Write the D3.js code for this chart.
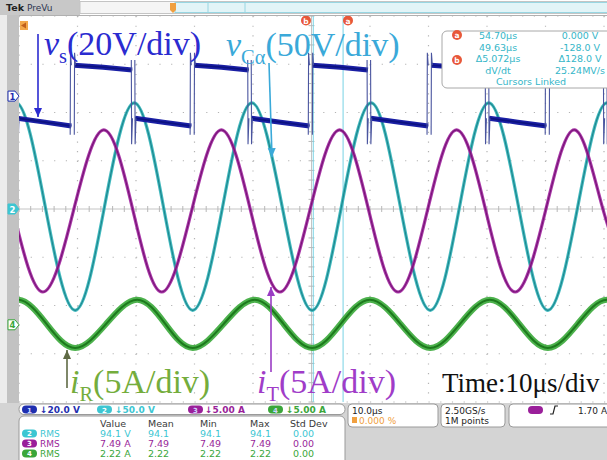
<!DOCTYPE html>
<html lang='en'>
<head>
<meta charset="utf-8">
<script src="https://d3js.org/d3.v7.min.js"></script>
<style>
body { margin:0; background:#fff; }
svg { display:block; }
</style>
</head>
<body>
<div id="scope"></div>
<script>

// ---- data (time in us, 10 us/div) ----
var chScale = [20, 50, 5, 5];          // V/div, V/div, A/div, A/div
var chPos   = [2.34, 0, 0, -2.40];      // channel offset, in div

// i_T (ch3): crossings / peaks / troughs
var iT_t = [-11.0, -6.0, -1.0, 4.1, 9.3, 14.5, 19.5, 24.4, 29.5, 34.6, 39.6, 44.6,
            49.7, 54.8, 59.8, 64.8, 69.8, 74.8, 79.8, 84.8, 90.0, 95.0, 99.9, 104.9];
var iT_v = [-0.2, 8.2, -0.2, -8.6, -0.2, 8.2, -0.2, -8.6, -0.2, 8.2, -0.2, -8.6,
            -0.2, 8.2, -0.2, -8.6, -0.2, 8.2, -0.2, -8.6, -0.2, 8.2, -0.2, -8.6];

// v_Ca (ch2)
var vC_t = [-5.5, -0.5, 4.5, 9.6, 14.6, 19.7, 24.7, 29.7, 34.8, 39.8, 45.0, 50.1,
            55.1, 60.2, 65.2, 70.3, 75.3, 80.3, 85.4, 90.4, 95.5, 100.5, 105.5];
var vC_v = [2, 110, 2, -105, 2, 110, 2, -105, 2, 110, 2, -105,
            2, 110, 2, -105, 2, 110, 2, -105, 2, 110, 2];

// i_R (ch4)
var iR_t = [-5.0, -0.2, 4.7, 9.6, 14.9, 20.2, 25.0, 29.7, 35.0, 40.3, 45.2, 50.1,
            55.0, 60.0, 65.2, 70.3, 75.4, 80.5, 85.5, 90.4, 95.5, 100.5, 105.4];
var iR_v = [0.1, 2.6, 0.1, -2.4, 0.1, 2.6, 0.1, -2.4, 0.1, 2.6, 0.1, -2.4,
            0.1, 2.6, 0.1, -2.4, 0.1, 2.6, 0.1, -2.4, 0.1, 2.6, 0.1];

// v_s (ch1): switching edges and levels
var vsRise = [9.1, 29.6, 49.8, 70.1, 90.3];
var vsFall = [-0.5, 19.5, 39.4, 59.8, 80.0, 100.2];
var vsHigh = [12.8, 12.0, 10.8];   // start, middle, end of a high interval (V)
var vsLow  = [-9.2, -10.8, -12.4];
var vsRiseSpike = [-16, 18];
var vsFallSpike = [15, -20];

// cursors
var cursorAt = [50.3, 55.4];   // b, a
var curLeft  = ["54.70\u03bcs", "49.63\u03bcs", "\u03945.072\u03bcs", "dV/dt"];
var curRight = ["0.000 V", "-128.0 V", "\u0394128.0 V", "25.24MV/s"];

// bottom panel
var chBar  = ["\u219320.0 V", "\u219350.0 V", "\u21935.00 A", "\u21935.00 A"];
var measHead = ["Value", "Mean", "Min", "Max", "Std Dev"];
var measCh   = ["2", "3", "4"];
var measVal  = [["94.1 V", "94.1", "94.1", "94.1", "0.00"],
                ["7.49 A", "7.49", "7.49", "7.49", "0.00"],
                ["2.22 A", "2.22", "2.22", "2.22", "0.00"]];

var chCol  = ["#1a1fa4", "#2fb3b8", "#a0229e", "#38a838"];
var chDark = ["#0c1280", "#1d878e", "#781477", "#1d7a1d"];
var chFill = ["#1f2fb0", "#3cc6d2", "#9a1f9a", "#3aa63a"];

// ---- layout ----
var W = 607, H = 460;
var x = d3.scaleLinear().domain([0, 100]).range([19, 604]);
var yDiv = d3.scaleLinear().domain([-4, 4]).range([402, 16]);
function yCh(c, v) { return yDiv(v / chScale[c] + chPos[c]); }

var svg = d3.select("#scope").append("svg")
  .attr("width", W).attr("height", H)
  .style("font-family", "'DejaVu Sans', sans-serif");

svg.append("rect").attr("width", W).attr("height", H).attr("fill", "#fff");

var defs = svg.append("defs");
defs.append("clipPath").attr("id", "plot")
  .append("rect").attr("x", 19).attr("y", 16).attr("width", 590).attr("height", 386);

// grid
var grid = svg.append("g");
var xMinor = (x(10) - x(0)) / 5, yMinor = (yDiv(0) - yDiv(1)) / 5;
d3.range(0, 11).forEach(function (i) {
  if (i == 5) return;
  grid.append("line").attr("x1", x(i * 10)).attr("x2", x(i * 10)).attr("y1", 16).attr("y2", 402)
    .attr("stroke", "#b4b4b4").attr("stroke-width", 1.2)
    .attr("stroke-dasharray", "1.2," + (yMinor - 1.2));
});
d3.range(-4, 5).forEach(function (j) {
  if (j == 0) return;
  grid.append("line").attr("x1", 19).attr("x2", 607).attr("y1", yDiv(j)).attr("y2", yDiv(j))
    .attr("stroke", "#b4b4b4").attr("stroke-width", 1.2)
    .attr("stroke-dasharray", "1.2," + (xMinor - 1.2));
});
grid.append("line").attr("x1", 19).attr("x2", 607).attr("y1", yDiv(0)).attr("y2", yDiv(0))
  .attr("stroke", "#c4c4c4");
grid.append("line").attr("x1", x(50)).attr("x2", x(50)).attr("y1", 16).attr("y2", 402)
  .attr("stroke", "#c4c4c4");
d3.range(0, 51).forEach(function (k) {
  grid.append("line").attr("x1", x(0) + k * xMinor).attr("x2", x(0) + k * xMinor)
    .attr("y1", yDiv(0) - 3).attr("y2", yDiv(0) + 3).attr("stroke", "#b8b8b8");
});
d3.range(0, 41).forEach(function (k) {
  grid.append("line").attr("y1", 16 + k * yMinor).attr("y2", 16 + k * yMinor)
    .attr("x1", x(50) - 3).attr("x2", x(50) + 3).attr("stroke", "#b8b8b8");
});

// cursor lines
cursorAt.forEach(function (t) {
  svg.append("line").attr("x1", x(t)).attr("x2", x(t)).attr("y1", 16).attr("y2", 402)
    .attr("stroke", "#78d2e4").attr("stroke-width", 1);
});

// ---- traces ----
var traces = svg.append("g").attr("clip-path", "url(#plot)");
function sineTrace(c, ts, vs, w) {
  var pts = ts.map(function (t, i) { return [t, vs[i]]; });
  var line = d3.line().x(function (d) { return x(d[0]); })
    .y(function (d) { return yCh(c, d[1]); }).curve(d3.curveNatural);
  traces.append("path").attr("d", line(pts)).attr("fill", "none")
    .attr("stroke", chCol[c]).attr("stroke-width", w).attr("stroke-opacity", 0.9);
  traces.append("path").attr("d", line(pts)).attr("fill", "none")
    .attr("stroke", chDark[c]).attr("stroke-width", w * 0.35);
}
sineTrace(3, iR_t, iR_v, 6);
sineTrace(1, vC_t, vC_v, 3.2);
sineTrace(2, iT_t, iT_v, 3.2);

// v_s: flat segments + thin switching edges
var segs = [];
vsFall.forEach(function (f) {
  var r = vsRise.find(function (v) { return v > f; });
  if (r !== undefined) segs.push([f, r, vsLow]);
});
vsRise.forEach(function (r) {
  var f = vsFall.find(function (v) { return v > r; });
  if (f !== undefined) segs.push([r, f, vsHigh]);
});
var segLine = d3.line().x(function (d) { return x(d[0]); }).y(function (d) { return yCh(0, d[1]); });
segs.forEach(function (s) {
  var a = s[0] + 0.35, b = s[1] - 0.15, lv = s[2];
  var pts = [[a, lv[0]], [(a + b) / 2, lv[1]], [b, lv[2]]];
  traces.append("path").attr("d", segLine(pts)).attr("fill", "none")
    .attr("stroke", chCol[0]).attr("stroke-width", 5);
  traces.append("path").attr("d", segLine(pts)).attr("fill", "none")
    .attr("stroke", chDark[0]).attr("stroke-width", 1.6);
});
vsRise.forEach(function (r) {
  [-0.35, 0.35].forEach(function (o) {
    traces.append("path").attr("d", segLine([[r + o, vsLow[2]], [r + o, vsRiseSpike[0]],
        [r + o + 0.05, vsRiseSpike[1]], [r + o + 0.2, vsHigh[0]]]))
      .attr("fill", "none").attr("stroke", "#4a559f").attr("stroke-width", 1.1);
  });
});
vsFall.forEach(function (f) {
  [-0.3, 0.3].forEach(function (o) {
    traces.append("path").attr("d", segLine([[f + o, vsHigh[2]], [f + o, vsFallSpike[0]],
        [f + o + 0.05, vsFallSpike[1]], [f + o + 0.2, vsLow[0]]]))
      .attr("fill", "none").attr("stroke", "#4a559f").attr("stroke-width", 1.1);
  });
});

// ---- annotations ----
function arrow(x1, y1, x2, y2, col) {
  svg.append("line").attr("x1", x1).attr("y1", y1).attr("x2", x2).attr("y2", y2)
    .attr("stroke", col).attr("stroke-width", 1.6);
  var ang = Math.atan2(y2 - y1, x2 - x1), L = 9, Wd = 4;
  var bx = x2 - L * Math.cos(ang), by = y2 - L * Math.sin(ang);
  svg.append("path").attr("fill", col)
    .attr("d", "M" + x2 + "," + y2 + "L" + (bx + Wd * Math.sin(ang)) + "," + (by - Wd * Math.cos(ang)) +
      "L" + (bx - Wd * Math.sin(ang)) + "," + (by + Wd * Math.cos(ang)) + "Z");
}
arrow(38, 34, 38, 117, "#2b2bd0");
arrow(269, 63, 272, 157, "#3aa9d9");
arrow(67, 388, 67, 350, "#5f6a44");
arrow(271, 372, 271, 287, "#9a3cc4");

function label(xp, yp, main, sub, rest, col, size) {
  var t = svg.append("text").attr("x", xp).attr("y", yp)
    .attr("font-family", "'Liberation Serif', 'Times New Roman', serif")
    .attr("font-size", size).attr("fill", col);
  t.append("tspan").attr("font-style", "italic").text(main);
  t.append("tspan").attr("font-size", size * 0.6).attr("dy", size * 0.24).text(sub);
  t.append("tspan").attr("dy", -size * 0.24).text(rest);
}
label(44, 55, "v", "s", "(20V/div)", "#2b2bd0", 34);
label(226, 56, "v", "C\u03b1", "(50V/div)", "#3aa9d9", 34);
label(70, 393, "i", "R", "(5A/div)", "#74ad3c", 34);
label(257, 393, "i", "T", "(5A/div)", "#a03cc8", 34);
svg.append("text").attr("x", 442).attr("y", 392)
  .attr("font-family", "'Liberation Serif', 'Times New Roman', serif")
  .attr("font-size", 27).attr("fill", "#111").text("Time:10\u03bcs/div");

// cursor readout box
svg.append("rect").attr("x", 442).attr("y", 31).attr("width", 175).attr("height", 57)
  .attr("rx", 5).attr("fill", "#fff").attr("stroke", "#a8a8a8");
var rowY = [39, 51, 62, 74];
curLeft.forEach(function (s, i) {
  svg.append("text").attr("x", 498).attr("y", rowY[i]).attr("text-anchor", "middle")
    .attr("font-size", 9.5).attr("fill", "#35b6c8").text(s);
  svg.append("text").attr("x", 580).attr("y", rowY[i]).attr("text-anchor", "middle")
    .attr("font-size", 9.5).attr("fill", "#35b6c8").text(curRight[i]);
});
svg.append("text").attr("x", 531).attr("y", 85).attr("text-anchor", "middle")
  .attr("font-size", 9.5).attr("fill", "#35b6c8").text("Cursors Linked");
function badge(cx, cy, s) {
  svg.append("circle").attr("cx", cx).attr("cy", cy).attr("r", 5).attr("fill", "#e8583a");
  svg.append("text").attr("x", cx).attr("y", cy + 3).attr("text-anchor", "middle")
    .attr("font-size", 7.5).attr("font-weight", "bold").attr("fill", "#fff").text(s);
}
badge(457, 35, "a");
badge(457, 60, "b");
badge(306, 20.5, "b");
badge(348, 20.5, "a");

// ---- chrome ----
svg.append("rect").attr("x", 0).attr("y", 15).attr("width", 7).attr("height", 388).attr("fill", "#ececec");
svg.append("rect").attr("x", 7).attr("y", 15).attr("width", 12).attr("height", 388).attr("fill", "#c2c2c2");
svg.append("line").attr("x1", 19).attr("x2", 607).attr("y1", 15.5).attr("y2", 15.5).attr("stroke", "#b0b0b0");

// top bar
svg.append("rect").attr("x", 0).attr("y", 0).attr("width", 80).attr("height", 15).attr("fill", "#c8c8c8");
svg.append("text").attr("x", 6).attr("y", 11).attr("font-size", 9.5).attr("font-weight", "bold")
  .attr("fill", "#222").text("Tek");
svg.append("text").attr("x", 27).attr("y", 11).attr("font-size", 9).attr("fill", "#2c3550").text("PreVu");
svg.append("rect").attr("x", 80).attr("y", 1.5).attr("width", 530).attr("height", 12)
  .attr("fill", "#f5f5f5").attr("stroke", "#c4c4c4");
svg.append("rect").attr("x", 175).attr("y", 2.5).attr("width", 435).attr("height", 10)
  .attr("fill", "#e2f4f7").attr("stroke", "#98d6e2");
[208, 245].forEach(function (v) {
  svg.append("line").attr("x1", v).attr("x2", v).attr("y1", 2).attr("y2", 13).attr("stroke", "#98d6e2");
});
svg.append("path").attr("d", "M170,3 L176,3 L176,10 L173,13 L170,10 Z").attr("fill", "#f0a040");
svg.append("path").attr("d", "M20,21 L28,21 L28,30 L20,30 Z").attr("fill", "#f2a84a");
svg.append("path").attr("d", "M21,25.5 L26,22.5 L26,28.5 Z").attr("fill", "#c0601c");

// channel markers on the left
function tag(cy, s, fill, stroke, txt) {
  svg.append("path").attr("d", "M8," + (cy - 5) + " L15," + (cy - 5) + " L19," + cy + " L15," + (cy + 5) +
    " L8," + (cy + 5) + " Z").attr("fill", fill).attr("stroke", stroke);
  svg.append("text").attr("x", 12.5).attr("y", cy + 3.5).attr("text-anchor", "middle")
    .attr("font-size", 8.5).attr("font-weight", "bold").attr("fill", txt).text(s);
}
tag(yCh(0, 0), "1", "#fff", chFill[0], chFill[0]);
tag(yCh(1, 0), "2", chFill[1], chFill[1], "#fff");
tag(yCh(3, 0), "4", "#fff", chFill[3], chFill[3]);

// bottom panel
svg.append("rect").attr("x", 0).attr("y", 403).attr("width", W).attr("height", 57).attr("fill", "#d4d4d4");
svg.append("rect").attr("x", 19).attr("y", 404).attr("width", 326).attr("height", 10.5)
  .attr("rx", 5).attr("fill", "#fff").attr("stroke", "#9a9a9a");
var pillX = [22, 97, 188, 268], barX = [40, 115, 205, 286], chIdx = [0, 1, 2, 3];
chIdx.forEach(function (c) {
  svg.append("rect").attr("x", pillX[c]).attr("y", 405.5).attr("width", 15).attr("height", 8)
    .attr("rx", 4).attr("fill", chFill[c]);
  svg.append("text").attr("x", pillX[c] + 7.5).attr("y", 412.5).attr("text-anchor", "middle")
    .attr("font-size", 7).attr("font-weight", "bold").attr("fill", c == 1 ? "#fff" : "#cfd6ff").text(c + 1);
  svg.append("text").attr("x", barX[c]).attr("y", 413).attr("font-size", 9).attr("font-weight", "bold")
    .attr("fill", chFill[c]).text(chBar[c]);
});

svg.append("rect").attr("x", 19).attr("y", 416).attr("width", 326).attr("height", 50)
  .attr("rx", 5).attr("fill", "#fff").attr("stroke", "#9a9a9a");
var colX = [100, 148, 200, 250, 290];
measHead.forEach(function (h, i) {
  svg.append("text").attr("x", colX[i]).attr("y", 427).attr("font-size", 9.5).attr("fill", "#3a3a3a").text(h);
});
measCh.forEach(function (s, r) {
  var c = +s - 1, yy = 437 + r * 10;
  svg.append("rect").attr("x", 22).attr("y", yy - 7.5).attr("width", 15).attr("height", 8)
    .attr("rx", 4).attr("fill", chFill[c]);
  svg.append("text").attr("x", 29.5).attr("y", yy - 1).attr("text-anchor", "middle")
    .attr("font-size", 7).attr("font-weight", "bold").attr("fill", "#fff").text(s);
  svg.append("text").attr("x", 40).attr("y", yy).attr("font-size", 9).attr("fill", chFill[c]).text("RMS");
  measVal[r].forEach(function (v, i) {
    svg.append("text").attr("x", colX[i] + (i == 4 ? 3 : 0)).attr("y", yy).attr("font-size", 9.5)
      .attr("fill", chFill[c]).text(v);
  });
});

// horizontal / acquisition / trigger boxes
[[348, 90], [441, 64], [509, 110]].forEach(function (b) {
  svg.append("rect").attr("x", b[0]).attr("y", 404).attr("width", b[1]).attr("height", 23)
    .attr("rx", 4).attr("fill", "#fff").attr("stroke", "#9a9a9a");
});
svg.append("text").attr("x", 352).attr("y", 413.5).attr("font-size", 9).attr("fill", "#222").text("10.0\u03bcs");
svg.append("rect").attr("x", 352).attr("y", 417).attr("width", 5).attr("height", 6).attr("fill", "#f0a040");
svg.append("text").attr("x", 359).attr("y", 423.5).attr("font-size", 9).attr("fill", "#f0a040").text("0.000 %");
svg.append("text").attr("x", 445).attr("y", 413.5).attr("font-size", 9).attr("fill", "#222").text("2.50GS/s");
svg.append("text").attr("x", 445).attr("y", 423.5).attr("font-size", 9).attr("fill", "#222").text("1M points");
svg.append("rect").attr("x", 528).attr("y", 406).attr("width", 15).attr("height", 8).attr("rx", 4).attr("fill", chFill[2]);
svg.append("path").attr("d", "M550,414 L553,414 L555,406 L558,406").attr("fill", "none")
  .attr("stroke", "#222").attr("stroke-width", 1.2);
svg.append("text").attr("x", 578).attr("y", 413.5).attr("font-size", 9).attr("fill", "#222").text("1.70 A");

</script>
</body>
</html>
